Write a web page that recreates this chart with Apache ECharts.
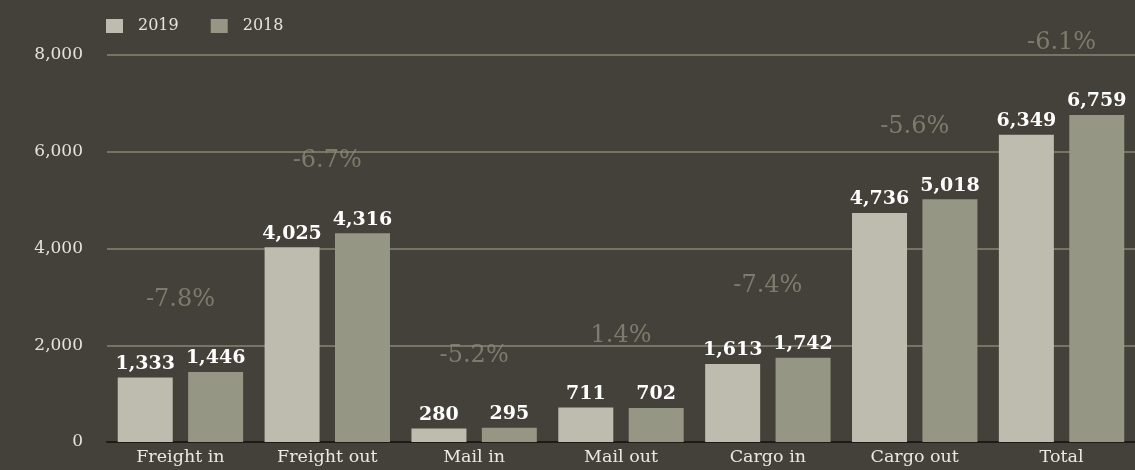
<!DOCTYPE html>
<html><head><meta charset="utf-8">
<script src="https://cdn.jsdelivr.net/npm/echarts@6/dist/echarts.min.js"></script>
<style>html,body{margin:0;padding:0;background:#434139;}#c{width:1135px;height:470px;}</style>
</head><body><div id="c"></div>
<script>
const categories = ['Freight in','Freight out','Mail in','Mail out','Cargo in','Cargo out','Total'];
const values2019 = [1333, 4025, 280, 711, 1613, 4736, 6349];
const values2018 = [1446, 4316, 295, 702, 1742, 5018, 6759];
const changeLabels = ['-7.8%','-6.7%','-5.2%','1.4%','-7.4%','-5.6%','-6.1%'];
const yTicks = [0, 2000, 4000, 6000, 8000];

const FONT = 'DejaVu Serif';
const chart = echarts.init(document.getElementById('c'), null, {renderer:'canvas'});
const fmt = v => v.toLocaleString('en-US');
chart.setOption({
  backgroundColor: '#434139',
  animation: false,
  textStyle: {fontFamily: FONT},
  legend: {
    left: 101, top: 13, itemWidth: 17, itemHeight: 14, itemGap: 32,
    icon: 'rect',
    textStyle: {color: '#e6e3da', fontSize: 16, fontFamily: FONT, padding: [0,0,0,10]},
    data: ['2019','2018']
  },
  grid: {left: 107, right: 0, top: 55, bottom: 28, containLabel: false},
  xAxis: {
    type: 'category', data: categories,
    axisLine: {lineStyle: {color: '#1c1b17', width: 2}},
    axisTick: {show: false},
    axisLabel: {color: '#ebe8df', fontSize: 17.5, fontFamily: FONT, margin: 6}
  },
  yAxis: {
    type: 'value', min: yTicks[0], max: yTicks[yTicks.length-1], interval: 2000,
    axisLine: {show: false}, axisTick: {show: false},
    axisLabel: {color: '#e6e3da', fontSize: 17, fontFamily: FONT, margin: 24, formatter: v => fmt(v)},
    splitLine: {lineStyle: {color: '#868674', width: 1.5}}
  },
  series: [
    {
      name: '2019', type: 'bar', data: values2019, barWidth: 55, barGap: '28%',
      itemStyle: {color: '#bdbcae'},
      label: {show: true, position: 'top', distance: 4, color: '#ffffff', fontWeight: 'bold', fontSize: 19, fontFamily: FONT, formatter: p => fmt(p.value)}
    },
    {
      name: '2018', type: 'bar', data: values2018, barWidth: 55,
      itemStyle: {color: '#959684'},
      label: {show: true, position: 'top', distance: 4, color: '#ffffff', fontWeight: 'bold', fontSize: 19, fontFamily: FONT, formatter: p => fmt(p.value)}
    },
    {
      name: 'change', type: 'scatter', symbolSize: 0,
      data: categories.map((c, i) => ({value: [c, Math.max(values2019[i], values2018[i])], label: {formatter: changeLabels[i]}})),
      label: {show: true, position: 'top', distance: 60, color: '#8a8b78', fontSize: 24, fontFamily: FONT},
      silent: true, z: 5
    }
  ]
});
</script></body></html>
